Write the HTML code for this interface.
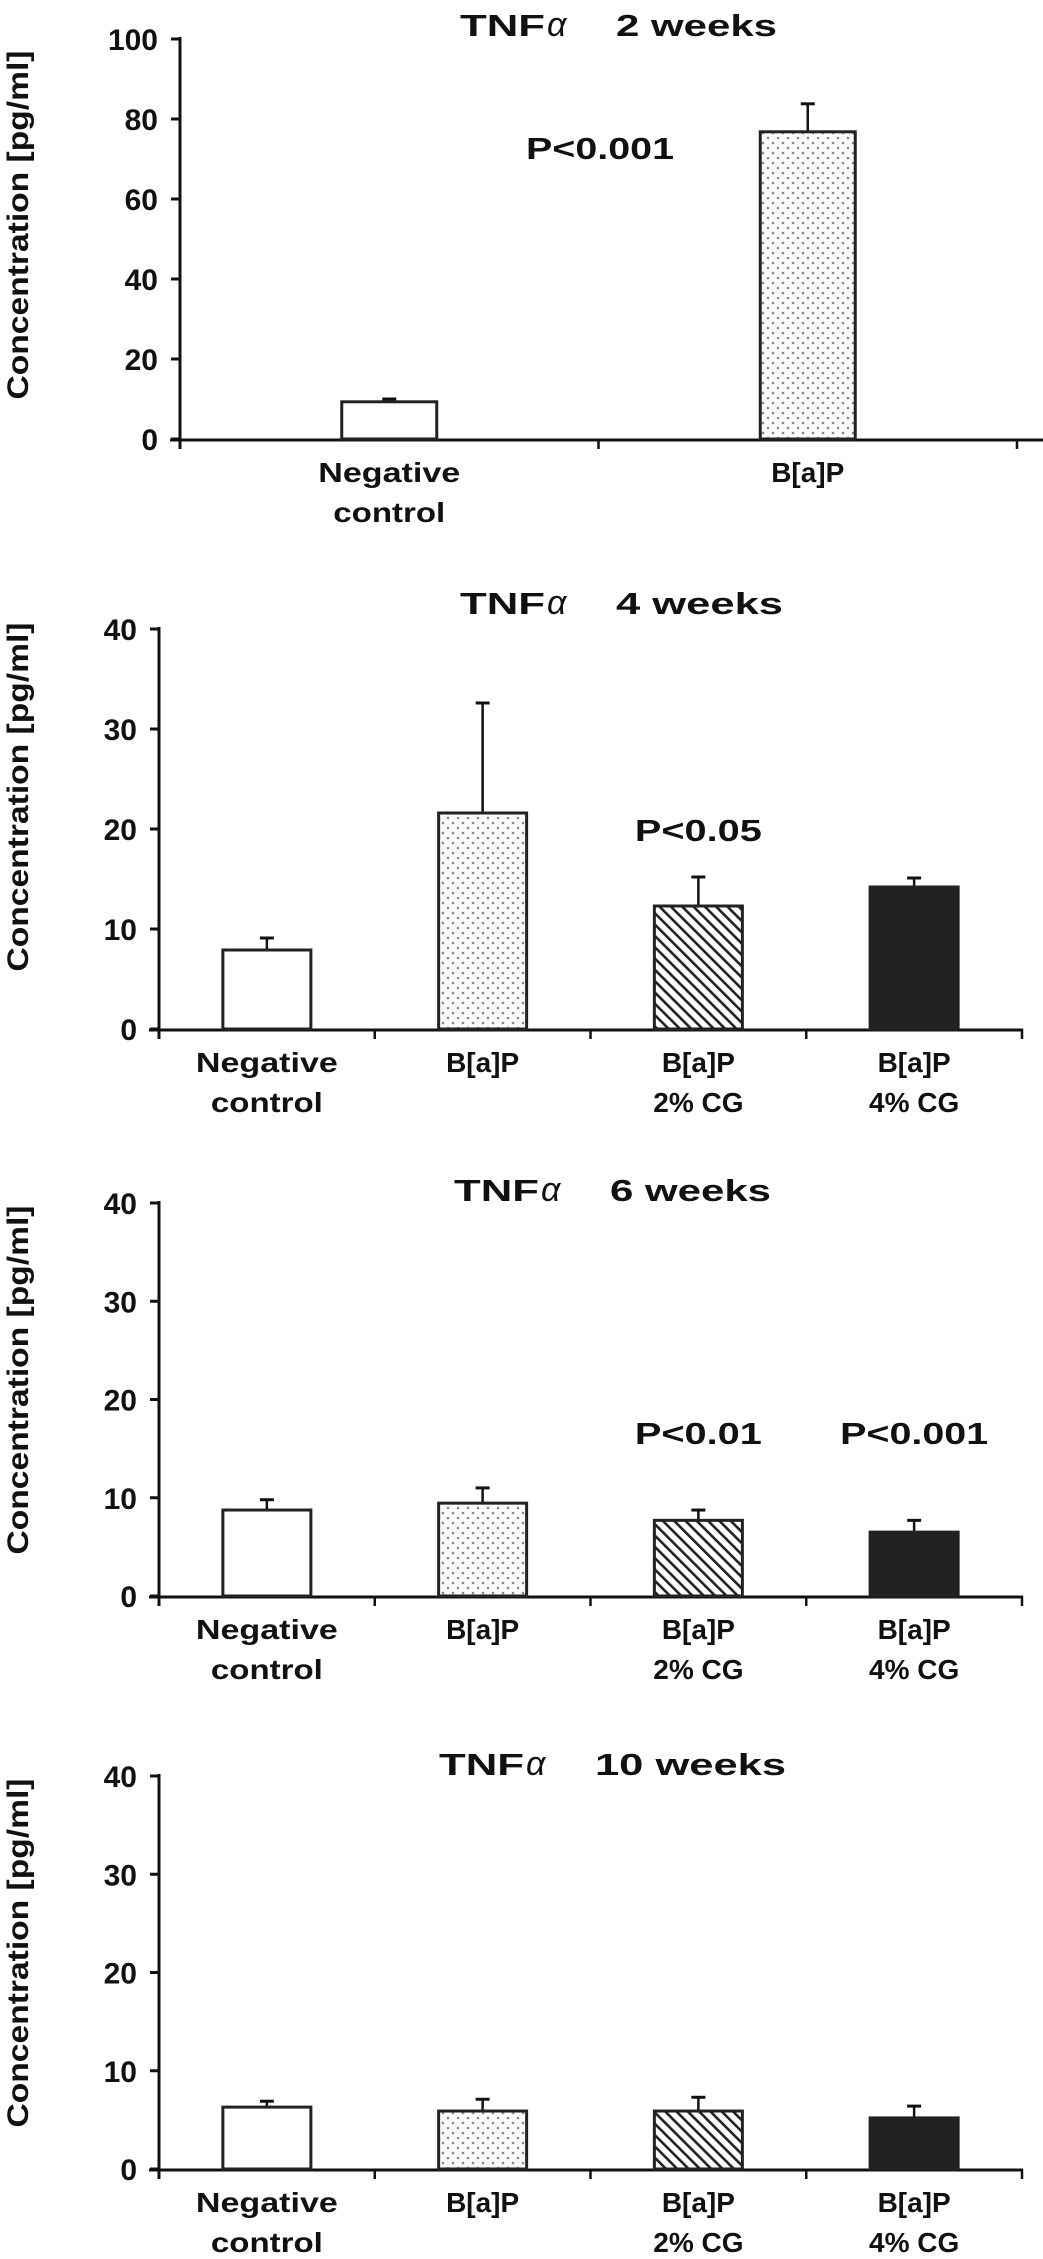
<!DOCTYPE html>
<html><head><meta charset="utf-8"><style>
html,body{margin:0;padding:0;background:#fff;}
svg{display:block;}
text{font-family:"Liberation Sans",Arial,sans-serif;fill:#111;}
</style></head><body>
<svg id="fig" width="1043" height="2259" viewBox="0 0 1043 2259" xmlns="http://www.w3.org/2000/svg">
<defs>
<pattern id="dots" width="10" height="10" patternUnits="userSpaceOnUse">
<rect width="10" height="10" fill="#fbfbfb"/><circle cx="3" cy="3" r="1.3" fill="#888"/><circle cx="8" cy="8" r="1.3" fill="#888"/>
</pattern>
<pattern id="hatch" width="8" height="8" patternUnits="userSpaceOnUse" patternTransform="rotate(-45)">
<rect width="8" height="8" fill="#fff"/><rect x="0" y="0" width="2.6" height="8" fill="#222"/>
</pattern>
</defs>
</svg>
<script>
// ---- data ----
const cats2w = ["Negative|control", "B[a]P"];
const mean2w = [9.3, 76.8];
const err2w = [10.0, 83.8];
const cats4 = ["Negative|control", "B[a]P", "B[a]P|2% CG", "B[a]P|4% CG"];
const mean4w = [7.9, 21.6, 12.3, 14.2];
const err4w = [9.1, 32.6, 15.2, 15.1];
const mean6w = [8.75, 9.45, 7.7, 6.5];
const err6w = [9.8, 11.0, 8.75, 7.7];
const mean10w = [6.3, 5.9, 5.9, 5.2];
const err10w = [6.9, 7.1, 7.3, 6.4];
const ticks100 = [0, 20, 40, 60, 80, 100];
const ticks40 = [0, 10, 20, 30, 40];
const titles = ["2 weeks", "4 weeks", "6 weeks", "10 weeks"];
const pvals2w = ["P<0.001", ""];
const pvals4w = ["", "", "P<0.05", ""];
const pvals6w = ["", "", "P<0.01", "P<0.001"];
const pvals10w = ["", "", "", ""];

const NS = "http://www.w3.org/2000/svg";
const svg = document.getElementById("fig");
const fills = ["#fff", "url(#dots)", "url(#hatch)", "#222"];
function mk(tag, attrs, parent, txt) {
  const e = document.createElementNS(NS, tag);
  for (const k in attrs) e.setAttribute(k, attrs[k]);
  if (txt !== undefined) e.textContent = txt;
  (parent || svg).appendChild(e);
  return e;
}

function chart(cfg) {
  const g = mk("g", {});
  
  
  const yMax = cfg.ticks[cfg.ticks.length - 1];
  const yScale = v => cfg.y0 - (v / yMax) * (cfg.y0 - cfg.yTop);
  const xCenter = i => cfg.ax + cfg.gw * (i + 0.5);

  const ya = mk("line", {x1: cfg.ax, y1: cfg.yTop - 2, x2: cfg.ax, y2: cfg.y0 + 10, stroke: "#111", "stroke-width": 3}, g);
  
  
  cfg.ticks.forEach(t => {
    const y = yScale(t);
    mk("line", {x1: cfg.ax - 9, y1: y, x2: cfg.ax, y2: y, stroke: "#111", "stroke-width": 3}, g);
    const tl = mk("text", {x: cfg.ax - 22, y: y + 11, "text-anchor": "end", "font-size": 30, "font-weight": "bold"}, g, String(t));
    
    
  });
  const yt = mk("text", {x: 0, y: 0, transform: `translate(28 ${cfg.ytc}) rotate(-90)`, "text-anchor": "middle", "font-size": 30, "font-weight": "bold", textLength: 349, lengthAdjust: "spacingAndGlyphs"}, g, "Concentration [pg/ml]");
  
  
  const xa = mk("line", {x1: cfg.ax - 10, y1: cfg.y0 + 1, x2: cfg.xEnd, y2: cfg.y0 + 1, stroke: "#111", "stroke-width": 3}, g);
  
  
  for (let i = 0; i <= cfg.cats.length; i++) {
    const x = cfg.ax + cfg.gw * i;
    mk("line", {x1: x, y1: cfg.y0, x2: x, y2: cfg.y0 + 10, stroke: "#111", "stroke-width": 2.5}, g);
  }
  const tg = mk("g", {}, g);
  
  
  mk("text", {x: cfg.tx0, y: cfg.ty + 11, "font-size": 31, "font-weight": "bold", textLength: 85, lengthAdjust: "spacingAndGlyphs"}, tg, "TNF");
  mk("text", {x: cfg.tx0 + 87, y: cfg.ty + 11, "font-size": 34, "font-family": "Liberation Serif, serif", "font-style": "italic"}, tg, "α");
  const wl = cfg.tw - 156;
  mk("text", {x: cfg.tx0 + 156, y: cfg.ty + 11, "font-size": 31, "font-weight": "bold", textLength: wl, lengthAdjust: "spacingAndGlyphs"}, tg, cfg.title);
  cfg.cats.forEach((c, i) => {
    const cx = xCenter(i);
    const top = yScale(cfg.mean[i]);
    const et = yScale(cfg.err[i]);
    const el = mk("line", {x1: cx, y1: top, x2: cx, y2: et, stroke: "#111", "stroke-width": 2.5}, g);
    
    
    mk("line", {x1: cx - 7, y1: et, x2: cx + 7, y2: et, stroke: "#111", "stroke-width": 3}, g);
    const b = mk("rect", {x: cx - cfg.bw / 2, y: top, width: cfg.bw, height: cfg.y0 - top, fill: fills[i], stroke: "#222", "stroke-width": 3}, g);
    
    
    c.split("|").forEach((line, k) => {
      const lt = mk("text", {x: cx, y: cfg.y0 + 43 + k * 40, "text-anchor": "middle", "font-size": 28, "font-weight": "bold"}, g, line);
      if (line === "Negative") { lt.setAttribute("textLength", 142); lt.setAttribute("lengthAdjust", "spacingAndGlyphs"); }
      if (line === "control") { lt.setAttribute("textLength", 112); lt.setAttribute("lengthAdjust", "spacingAndGlyphs"); }
      
      
    });
    if (cfg.pv[i]) {
      const px = cfg.pvX ? cfg.pvX[i] : cx;
      const pt = mk("text", {x: px, y: cfg.pvY + 11, "text-anchor": "middle", "font-size": 31, "font-weight": "bold", textLength: cfg.pv[i].length > 6 ? 148 : 127, lengthAdjust: "spacingAndGlyphs"}, g, cfg.pv[i]);
      
      
    }
  });
}

chart({name: "chart-2-weeks", cats: cats2w, mean: mean2w, err: err2w, pv: pvals2w, pvX: [600, 0], pvY: 148,
  ticks: ticks100, ax: 180, y0: 439, yTop: 39, gw: 418.5, bw: 95, xEnd: 1043, ytc: 225,
  title: titles[0], tx0: 460, tw: 317, ty: 25});
chart({name: "chart-4-weeks", cats: cats4, mean: mean4w, err: err4w, pv: pvals4w, pvY: 830,
  ticks: ticks40, ax: 159, y0: 1029, yTop: 629, gw: 215.75, bw: 88, xEnd: 1023, ytc: 797,
  title: titles[1], tx0: 460, tw: 323, ty: 603});
chart({name: "chart-6-weeks", cats: cats4, mean: mean6w, err: err6w, pv: pvals6w, pvY: 1433,
  ticks: ticks40, ax: 159, y0: 1596, yTop: 1203, gw: 215.75, bw: 88, xEnd: 1023, ytc: 1380,
  title: titles[2], tx0: 454, tw: 317, ty: 1190});
chart({name: "chart-10-weeks", cats: cats4, mean: mean10w, err: err10w, pv: pvals10w, pvY: 0,
  ticks: ticks40, ax: 159, y0: 2169, yTop: 1776, gw: 215.75, bw: 88, xEnd: 1023, ytc: 1953,
  title: titles[3], tx0: 439, tw: 347, ty: 1764});
</script>
</body></html>
